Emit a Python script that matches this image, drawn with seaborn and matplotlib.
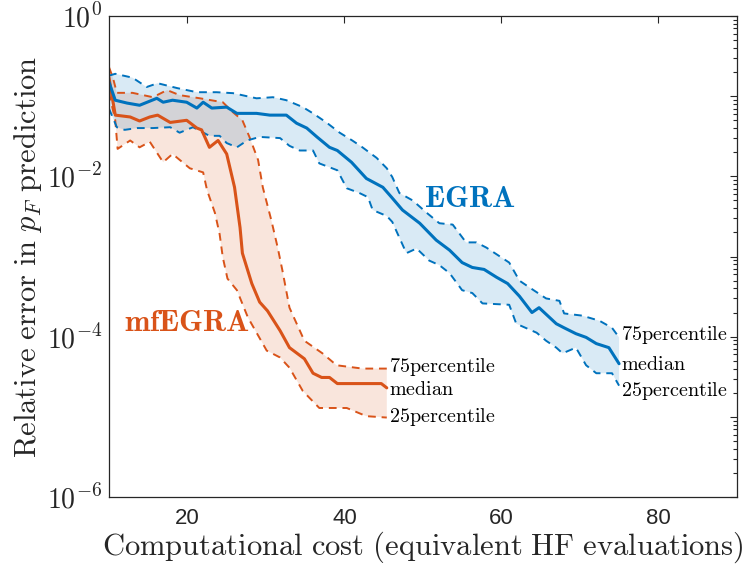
import numpy as np
import pandas as pd
import seaborn as sns
import matplotlib
matplotlib.use("Agg")
import matplotlib.pyplot as plt
from matplotlib.ticker import LogLocator, FixedLocator, FixedFormatter, NullFormatter

# EGRA
egra_med_x = [10.0, 10.8, 12.3, 13.9, 16.1, 16.9, 18.1, 19.9, 21.2, 22.0, 23.1, 25.0, 26.3, 28.8,
              30.5, 32.6, 33.9, 35.2, 36.5, 38.1, 39.1, 40.9, 42.8, 44.9, 46.0, 47.4, 49.6, 51.7,
              53.4, 55.0, 56.3, 57.8, 59.4, 60.8, 62.3, 63.9, 64.8, 67.0, 68.0, 69.5, 70.8, 72.1,
              73.7, 75.0]
egra_med = [0.15, 0.089, 0.082, 0.077, 0.094, 0.084, 0.089, 0.084, 0.071, 0.084, 0.071, 0.073,
            0.061, 0.061, 0.058, 0.058, 0.046, 0.040, 0.031, 0.023, 0.021, 0.015, 0.0094, 0.0073,
            0.0055, 0.0038, 0.0026, 0.0016, 0.0012, 0.00084, 0.00073, 0.00069, 0.00055, 0.00046,
            0.00032, 0.00020, 0.00023, 0.000145, 0.000129, 0.000109, 0.000098, 0.000082,
            0.000073, 0.000046]
egra_up_x = [10.0, 10.8, 13.0, 14.8, 16.2, 18.7, 21.2, 23.7, 25.8, 28.8, 30.9, 32.6, 34.7, 36.0,
             37.7, 39.4, 41.0, 42.3, 44.1, 45.4, 46.1, 47.0, 48.7, 50.5, 52.1, 53.8, 55.5, 56.8,
             58.1, 61.0, 62.3, 63.6, 65.7, 67.4, 68.0, 70.3, 72.5, 74.1, 75.0]
egra_up = [0.18, 0.19, 0.17, 0.13, 0.145, 0.126, 0.112, 0.112, 0.109, 0.094, 0.097, 0.089, 0.073,
           0.061, 0.047, 0.035, 0.028, 0.023, 0.017, 0.0126, 0.0098, 0.0062, 0.0050, 0.0035,
           0.0026, 0.0025, 0.0015, 0.0015, 0.00129, 0.00084, 0.00050, 0.00041, 0.00030, 0.00028,
           0.000195, 0.000183, 0.000158, 0.000129, 0.000098]
egra_lo_x = [10.0, 11.0, 12.0, 13.6, 15.6, 17.8, 19.0, 20.7, 22.8, 24.1, 25.0, 26.3, 27.6, 29.2,
             31.8, 33.0, 34.3, 36.0, 36.8, 39.1, 40.3, 41.9, 43.0, 43.6, 45.4, 46.1, 47.9, 49.2,
             50.8, 52.1, 53.4, 55.0, 56.3, 57.6, 61.0, 61.9, 64.5, 65.7, 67.0, 67.8, 69.5, 70.8,
             72.1, 74.1, 75.0]
egra_lo = [0.07, 0.041, 0.038, 0.040, 0.040, 0.041, 0.035, 0.041, 0.032, 0.032, 0.026, 0.023,
           0.028, 0.031, 0.030, 0.024, 0.021, 0.021, 0.0145, 0.0119, 0.0071, 0.0062, 0.0055,
           0.0038, 0.0032, 0.0027, 0.0011, 0.00126, 0.00089, 0.00078, 0.00062, 0.00038, 0.00035,
           0.00026, 0.00025, 0.000145, 0.000112, 0.000089, 0.000073, 0.000062, 0.000073,
           0.000044, 0.000035, 0.000035, 0.0000245]

# mfEGRA
mf_med_x = [10.0, 10.8, 12.7, 13.9, 15.2, 16.2, 17.8, 19.9, 21.2, 21.8, 22.8, 23.9, 25.0, 26.0,
            26.7, 27.0, 28.2, 29.2, 30.2, 31.8, 33.0, 34.9, 36.0, 37.1, 38.1, 39.1, 42.3, 44.7,
            45.4]
mf_med = [0.17, 0.058, 0.055, 0.049, 0.055, 0.058, 0.047, 0.050, 0.040, 0.038, 0.023, 0.028,
          0.019, 0.0073, 0.0023, 0.0011, 0.00046, 0.00027, 0.00021, 0.000119, 0.000073,
          0.000053, 0.000035, 0.000031, 0.000031, 0.000026, 0.000026, 0.000026, 0.000023]
mf_up_x = [10.0, 10.5, 11.0, 13.0, 15.6, 17.4, 19.0, 21.6, 24.5, 25.8, 27.0, 27.9, 29.0, 29.6,
           30.7, 31.5, 32.1, 33.0, 34.9, 37.2, 39.0, 42.3, 45.4]
mf_up = [0.23, 0.17, 0.11, 0.11, 0.097, 0.119, 0.103, 0.094, 0.084, 0.063, 0.050, 0.031, 0.016,
         0.0073, 0.0028, 0.00129, 0.00067, 0.00023, 0.000089, 0.000062, 0.000044, 0.000040,
         0.000040]
mf_lo_x = [10.0, 10.8, 11.1, 12.7, 13.9, 15.2, 16.9, 18.1, 20.3, 22.0, 22.5, 23.5, 24.1, 24.5,
           25.1, 26.3, 27.7, 30.1, 31.8, 33.0, 34.7, 36.8, 40.3, 42.8, 45.4]
mf_lo = [0.11, 0.050, 0.022, 0.028, 0.023, 0.027, 0.015, 0.019, 0.0126, 0.0112, 0.0067, 0.0035,
         0.0019, 0.00098, 0.00053, 0.00038, 0.000174, 0.000067, 0.000055, 0.000041, 0.000021,
         0.0000129, 0.0000129, 0.0000102, 0.0000098]

blue = "#0072BD"
orange = "#D95319"

sns.set_style("white")
plt.rcParams["font.family"] = ["Liberation Sans", "DejaVu Sans"]
plt.rcParams["mathtext.fontset"] = "cm"

fig = plt.figure(figsize=(7.48, 5.77), dpi=100)
ax = fig.add_axes([0.1457, 0.1386, 0.8393, 0.8337])

# shaded bands between 25th and 75th percentile
ax.fill(np.concatenate([mf_up_x, mf_lo_x[::-1]]), np.concatenate([mf_up, mf_lo[::-1]]),
        color=orange, alpha=0.15, lw=0)
ax.fill(np.concatenate([egra_up_x, egra_lo_x[::-1]]), np.concatenate([egra_up, egra_lo[::-1]]),
        color=blue, alpha=0.15, lw=0)

for xs, ys, c in [(mf_up_x, mf_up, orange), (mf_lo_x, mf_lo, orange),
                  (egra_up_x, egra_up, blue), (egra_lo_x, egra_lo, blue)]:
    sns.lineplot(x=xs, y=ys, color=c, lw=1.4, estimator=None, sort=False,
                 ax=ax).lines[-1].set_dashes((4, 3))
sns.lineplot(x=mf_med_x, y=mf_med, color=orange, lw=2.2, estimator=None, sort=False, ax=ax)
sns.lineplot(x=egra_med_x, y=egra_med, color=blue, lw=2.2, estimator=None, sort=False, ax=ax)

ax.set_yscale("log")
ax.set_xlim(10, 90)
ax.set_ylim(1e-6, 1)
ax.set_xticks([20, 40, 60, 80])
ax.yaxis.set_major_locator(FixedLocator([1e-6, 1e-5, 1e-4, 1e-3, 1e-2, 1e-1, 1]))
ax.yaxis.set_major_formatter(FixedFormatter([r"$\mathsf{10^{-6}}$", "", r"$\mathsf{10^{-4}}$", "",
                                             r"$\mathsf{10^{-2}}$", "", r"$\mathsf{10^{0}}$"]))
ax.yaxis.set_minor_locator(LogLocator(base=10, subs=np.arange(2, 10), numticks=20))
ax.yaxis.set_minor_formatter(NullFormatter())
ax.tick_params(which="both", direction="in", top=True, right=True, colors="#262626",
               labelsize=16, width=0.8)
ax.tick_params(which="major", length=5)
ax.tick_params(which="minor", length=3)
ax.tick_params(axis="y", which="major", labelsize=20, pad=5)
ax.tick_params(axis="x", which="major", pad=8)
for s in ax.spines.values():
    s.set_color("#262626")
    s.set_linewidth(0.9)

ax.set_xlabel(r"$\mathrm{Computational\ cost\ (equivalent\ HF\ evaluations)}$", fontsize=22,
              labelpad=0)
ax.set_ylabel(r"$\mathrm{Relative\ error\ in\ }p_F\mathrm{\ prediction}$", fontsize=22, labelpad=2)

ax.text(56, 5.2e-3, r"$\mathbf{EGRA}$", color=blue, fontsize=22, ha="center", va="center")
ax.text(20, 1.5e-4, r"$\mathbf{mfEGRA}$", color=orange, fontsize=22, ha="center", va="center")

lab = dict(fontsize=14.5, color="black", ha="left", va="center")
ax.text(75.3, 1.05e-4, r"$\mathrm{75percentile}$", **lab)
ax.text(75.3, 4.5e-5, r"$\mathrm{median}$", **lab)
ax.text(75.3, 2.1e-5, r"$\mathrm{25percentile}$", **lab)
ax.text(45.7, 4.2e-5, r"$\mathrm{75percentile}$", **lab)
ax.text(45.7, 2.2e-5, r"$\mathrm{median}$", **lab)
ax.text(45.7, 1.0e-5, r"$\mathrm{25percentile}$", **lab)

fig.savefig("out.png", dpi=100)
